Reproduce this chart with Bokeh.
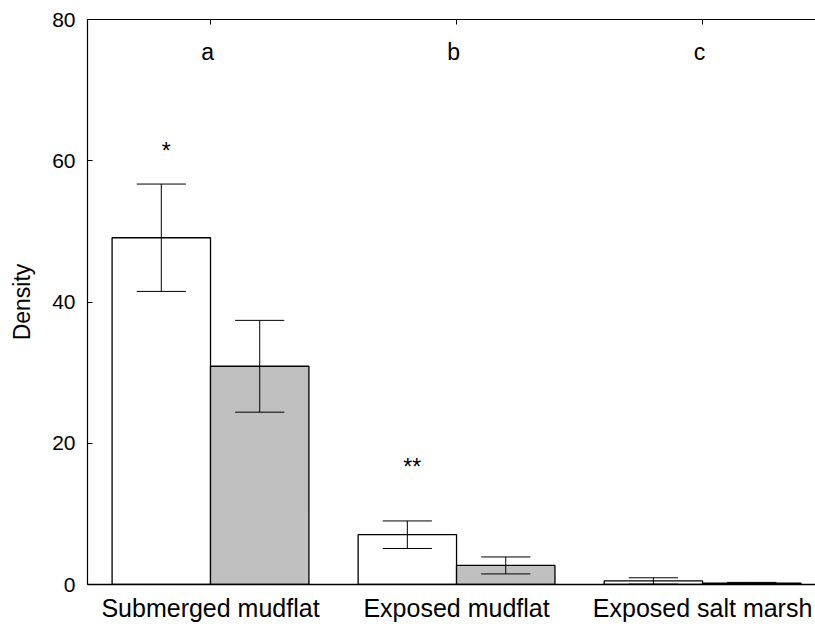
from bokeh.plotting import figure
from bokeh.models import Range1d, LinearAxis, FixedTicker
from bokeh.core.properties import value
from bokeh.embed import file_html
from bokeh.resources import INLINE

categories = ["Submerged mudflat", "Exposed mudflat", "Exposed salt marsh"]
group_letters = ["a", "b", "c"]
white_mean = [49.1, 7.05, 0.5]
white_se = [7.6, 1.95, 0.45]
grey_mean = [30.9, 2.7, 0.2]
grey_se = [6.5, 1.2, 0.1]
sig_labels = ["*", "**"]
sig_groups = [0, 1]
sig_y = [61.4, 16.6]
letter_y = 75.4
y_ticks = [0, 20, 40, 60, 80]

FONT = "Liberation Sans"
BW = 0.4
xs = list(range(len(categories)))

p = figure(width=815, height=624, output_backend="svg", toolbar_location=None,
           x_range=Range1d(-0.5, 2.459), y_range=Range1d(0, 80),
           min_border_left=87, min_border_right=0, min_border_top=19, min_border_bottom=39,
           x_axis_location=None)
p.outline_line_color = None
p.grid.visible = False
p.background_fill_color = "white"
p.border_fill_color = "white"

wx = [x - BW / 2 for x in xs]
gx = [x + BW / 2 for x in xs]
p.vbar(x=wx, top=white_mean, width=BW, bottom=0, fill_color="white",
       line_color="black", line_width=1.3)
p.vbar(x=gx, top=grey_mean, width=BW, bottom=0, fill_color="#c0c0c0",
       line_color="black", line_width=1.3)

for cx, m, s in ((wx, white_mean, white_se), (gx, grey_mean, grey_se)):
    lo = [a - b for a, b in zip(m, s)]
    hi = [a + b for a, b in zip(m, s)]
    p.segment(x0=cx, x1=cx, y0=lo, y1=hi, line_color="black", line_width=1)
    p.segment(x0=[c - 0.1 for c in cx], x1=[c + 0.1 for c in cx], y0=hi, y1=hi,
              line_color="black", line_width=1)
    p.segment(x0=[c - 0.1 for c in cx], x1=[c + 0.1 for c in cx], y0=lo, y1=lo,
              line_color="black", line_width=1)

p.text(x=[wx[g] + 0.02 for g in sig_groups], y=sig_y, text=sig_labels,
       text_font=value(FONT), text_font_size="23px", text_align="center",
       text_baseline="alphabetic", text_color="black")

p.text(x=[x - 0.012 for x in xs], y=[letter_y] * len(xs), text=group_letters,
       text_font=value(FONT), text_font_size="23px", text_align="center",
       text_baseline="alphabetic", text_color="black")

# left axis
ya = p.yaxis[0]
ya.ticker = FixedTicker(ticks=y_ticks)
ya.axis_label = "Density"
ya.axis_label_text_font = FONT
ya.axis_label_text_font_size = "23px"
ya.axis_label_text_font_style = "normal"
ya.axis_label_text_color = "black"
ya.axis_label_standoff = 14
ya.major_label_text_font = FONT
ya.major_label_text_font_size = "21px"
ya.major_label_text_color = "black"
ya.major_label_standoff = 12
ya.major_tick_in = 5
ya.major_tick_out = 0
ya.minor_tick_in = 0
ya.minor_tick_out = 0
ya.axis_line_width = 1.2
ya.axis_line_color = "black"

# bottom axis
xb = LinearAxis(ticker=FixedTicker(ticks=xs),
                major_label_overrides={i: c for i, c in enumerate(categories)})
xb.major_label_text_font = FONT
xb.major_label_text_font_size = "25px"
xb.major_label_text_color = "black"
xb.major_label_standoff = 9
xb.major_tick_in = 0
xb.major_tick_out = 0
xb.minor_tick_in = 0
xb.minor_tick_out = 0
xb.axis_line_width = 1.5
xb.axis_line_color = "black"
p.add_layout(xb, "below")

# top axis
xt = LinearAxis(ticker=FixedTicker(ticks=xs))
xt.major_label_text_font_size = "0px"
xt.major_label_text_color = None
xt.major_label_standoff = 0
xt.major_tick_in = 5
xt.major_tick_out = 0
xt.minor_tick_in = 0
xt.minor_tick_out = 0
xt.axis_line_width = 1.2
xt.axis_line_color = "black"
p.add_layout(xt, "above")

open("out.html", "w").write(file_html(p, INLINE))
